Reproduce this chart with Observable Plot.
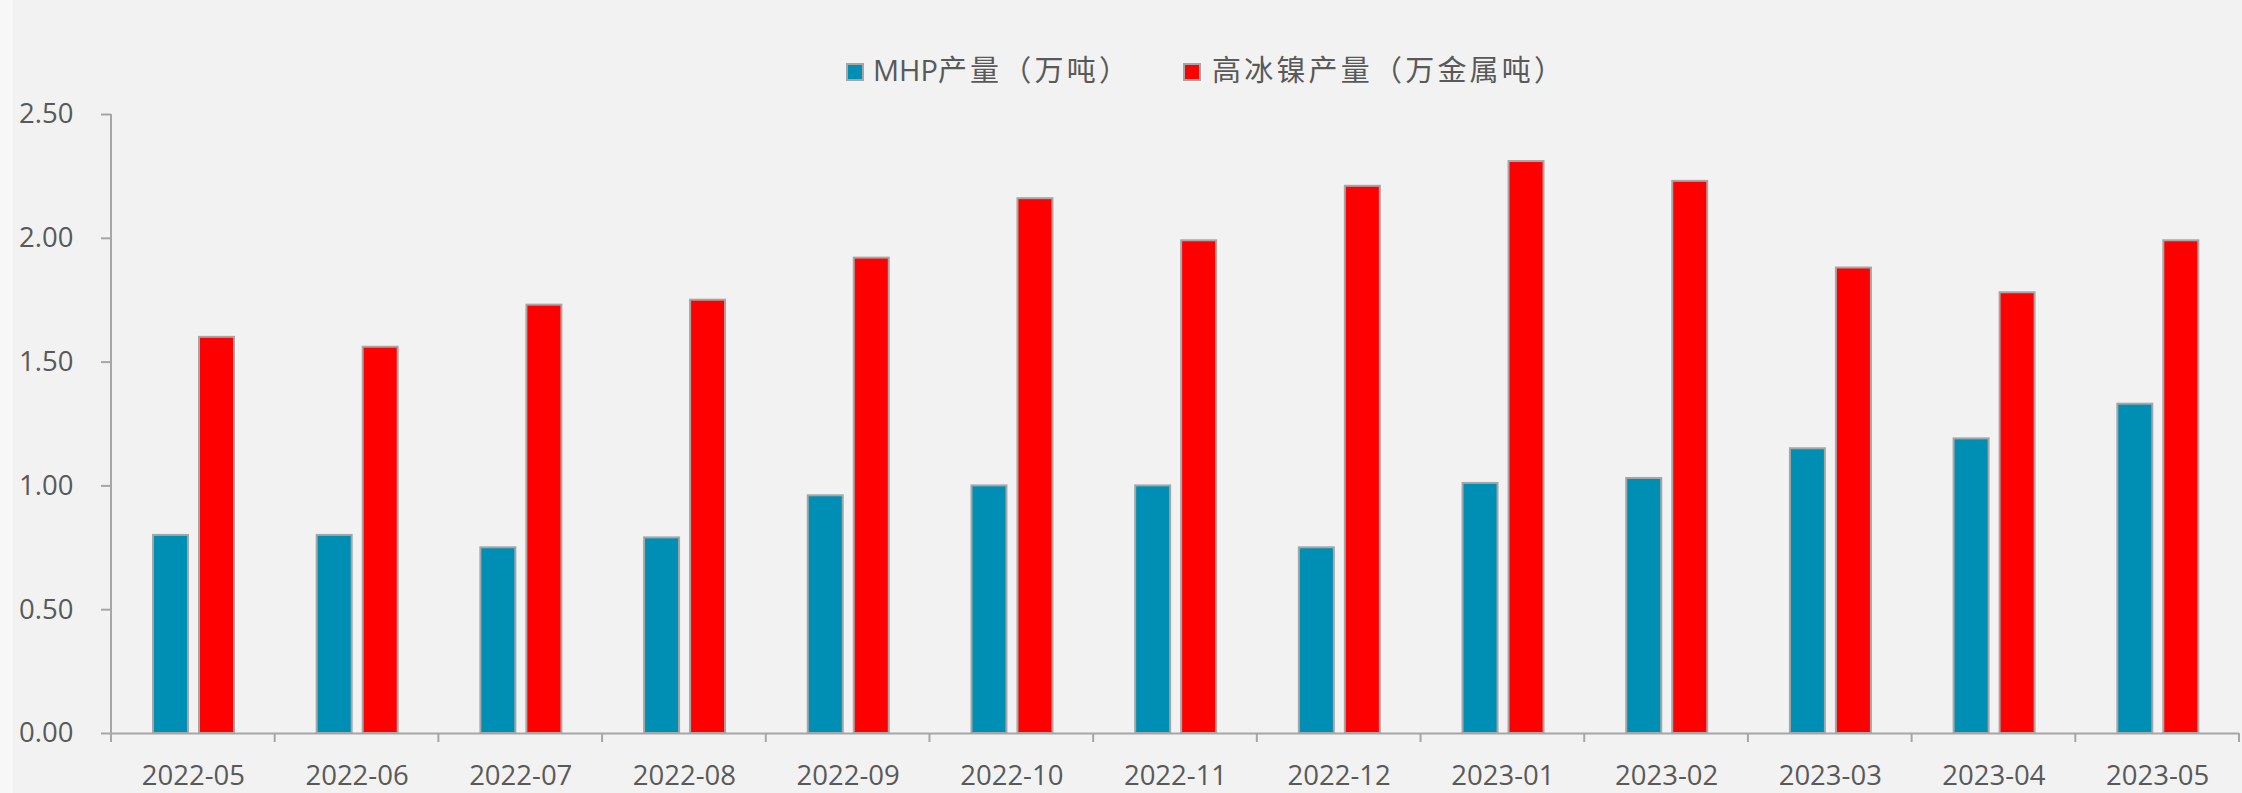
<!DOCTYPE html>
<html>
<head>
<meta charset="utf-8">
<script src="https://cdn.jsdelivr.net/npm/d3@7"></script>
<script src="https://cdn.jsdelivr.net/npm/@observablehq/plot@0.6"></script>
<style>
  html, body { margin: 0; padding: 0; background: #f2f2f2; }
  #wrap { position: relative; width: 2242px; height: 793px; background: #f2f2f2; overflow: hidden; }
  #strip { position: absolute; left: 0; top: 0; width: 13px; height: 793px; background: #f7f7f7; }
  #legend { position: relative; width: 2242px; height: 86px; font-family: "Open Sans", "Noto Sans CJK SC", sans-serif; font-size: 29px; color: #595959; }
  .sw { position: absolute; top: 63px; width: 18px; height: 18px; box-sizing: border-box; border: 2px solid #a6a6a6; }
  .lt { position: absolute; top: 55px; line-height: 29px; white-space: nowrap; letter-spacing: 3.2px; }
  .lt .lat { letter-spacing: 0; }
  #chart { position: relative; }
  #chart svg { display: block; }
</style>
</head>
<body>
<div id="wrap">
  <div id="strip"></div>
  <div id="legend"></div>
  <div id="chart"></div>
</div>
<script>
// ---- data ----
const months = ["2022-05","2022-06","2022-07","2022-08","2022-09","2022-10","2022-11","2022-12","2023-01","2023-02","2023-03","2023-04","2023-05"];
const mhpOutput = [0.80, 0.80, 0.75, 0.79, 0.96, 1.00, 1.00, 0.75, 1.01, 1.03, 1.15, 1.19, 1.33];
const matteOutput = [1.60, 1.56, 1.73, 1.75, 1.92, 2.16, 1.99, 2.21, 2.31, 2.23, 1.88, 1.78, 1.99];
const seriesNames = ["MHP产量（万吨）", "高冰镍产量（万金属吨）"];
const seriesColors = ["#008fb4", "#ff0000"];
const yTicks = [0, 0.5, 1.0, 1.5, 2.0, 2.5];

const rows = months.map((m, i) => ({month: m, mhp: mhpOutput[i], matte: matteOutput[i]}));

// ---- legend ----
const legend = document.getElementById("legend");
const legendPos = [{sw: 846, tx: 873}, {sw: 1183, tx: 1212}];
seriesNames.forEach((name, i) => {
  const s = document.createElement("div");
  s.className = "sw";
  s.style.left = legendPos[i].sw + "px";
  s.style.background = seriesColors[i];
  legend.appendChild(s);
  const t = document.createElement("div");
  t.className = "lt";
  t.style.left = legendPos[i].tx + "px";
  // latin runs keep normal spacing, CJK runs get a little extra
  name.split(/([A-Za-z0-9]+)/).filter(p => p.length).forEach(part => {
    const sp = document.createElement("span");
    if (/^[A-Za-z0-9]+$/.test(part)) sp.className = "lat";
    sp.textContent = part;
    t.appendChild(sp);
  });
  legend.appendChild(t);
});

// ---- chart ----
const W = 2242, H = 707, ML = 111, MR = 3, MT = 28, MB = 60;
const axisGrey = "#a6a6a6", textGrey = "#595959";
const step = (W - ML - MR) / months.length;
const barW = 35;

const chart = Plot.plot({
  width: W,
  height: H,
  marginLeft: ML,
  marginRight: MR,
  marginTop: MT,
  marginBottom: MB,
  style: {background: "transparent", fontFamily: "'Open Sans', 'Noto Sans', sans-serif", fontSize: "27.5px", color: textGrey, overflow: "visible"},
  x: {type: "band", domain: months, padding: 0, round: false},
  y: {domain: [0, 2.5]},
  marks: [
    Plot.barY(rows, {x: "month", y: "mhp", fill: seriesColors[0], stroke: axisGrey, strokeWidth: 2,
      insetLeft: 42, insetRight: step - 42 - barW}),
    Plot.barY(rows, {x: "month", y: "matte", fill: seriesColors[1], stroke: axisGrey, strokeWidth: 2,
      insetLeft: 88, insetRight: step - 88 - barW}),
    Plot.ruleY([0], {stroke: axisGrey, strokeWidth: 2}),
    Plot.axisY({ticks: yTicks, tickFormat: d3.format(".2f"), tickSize: 10, tickPadding: 28,
      stroke: axisGrey, strokeWidth: 2, fill: textGrey, fontSize: 27.5, label: null}),
    Plot.axisX({tickSize: 0, tickPadding: 32, fill: textGrey, fontSize: 27.5, label: null})
  ]
});
document.getElementById("chart").appendChild(chart);

// axis line and category boundary ticks, from the plot's own scales
const xs = chart.scale("x");
const yScale = Plot.scale({y: chart.scale("y")});
const baseY = yScale.apply(0);
const topY = yScale.apply(yTicks[yTicks.length - 1]);
const bounds = months.map((m, i) => xs.range[0] + i * xs.step).concat([xs.range[1]]);
const g = d3.select(chart).append("g").attr("stroke", axisGrey).attr("stroke-width", 2);
g.append("line")
  .attr("x1", xs.range[0]).attr("x2", xs.range[0])
  .attr("y1", topY).attr("y2", baseY + 9);
g.selectAll("line.b").data(bounds).join("line").attr("class", "b")
  .attr("x1", d => d).attr("x2", d => d)
  .attr("y1", baseY).attr("y2", baseY + 9);
</script>
</body>
</html>
